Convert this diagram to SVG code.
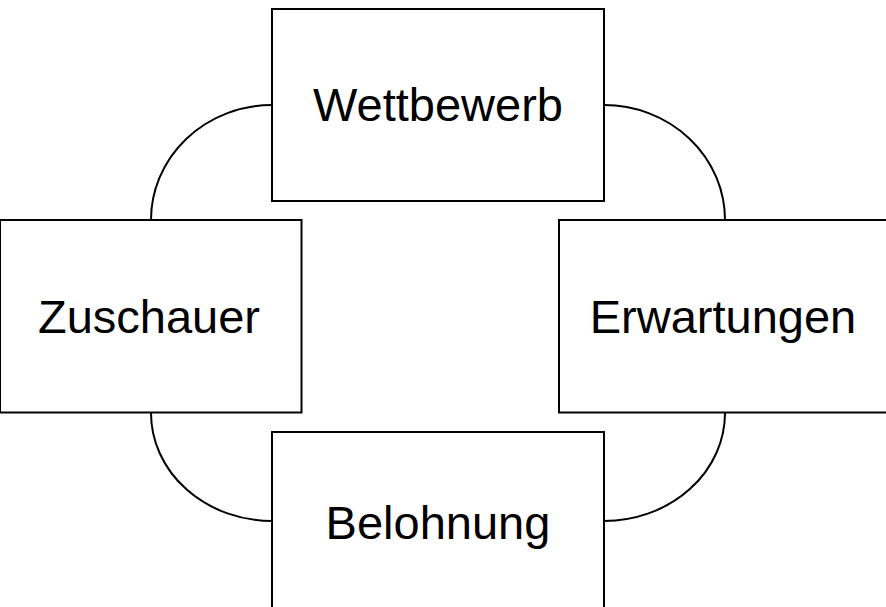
<svg xmlns="http://www.w3.org/2000/svg" width="886" height="607" viewBox="0 0 886 607">
<style>
.box{fill:#fff;stroke:#000;stroke-width:2}
.arc{fill:none;stroke:#000;stroke-width:2}
.lbl{font-family:"Liberation Sans",Arial,sans-serif;font-size:47px;fill:#000;text-anchor:middle}
</style>
<rect width="886" height="607" fill="#fff"/>
<g id="connectors">
<path class="arc" d="M272,105 A121,115 0 0 0 151,220"/>
<path class="arc" d="M604,105 A121,115 0 0 1 725,220"/>
<path class="arc" d="M151,413 A121,108 0 0 0 272,521"/>
<path class="arc" d="M725,413 A121,108 0 0 1 604,521"/>
</g>
<g id="wettbewerb">
<rect class="box" x="272" y="9" width="332" height="192"/>
<text class="lbl" x="438" y="121">Wettbewerb</text>
</g>
<g id="zuschauer">
<rect class="box" x="0" y="220" width="301.5" height="192.5"/>
<text class="lbl" x="149" y="333">Zuschauer</text>
</g>
<g id="erwartungen">
<rect class="box" x="559" y="220" width="340" height="192.5"/>
<text class="lbl" x="723" y="333">Erwartungen</text>
</g>
<g id="belohnung">
<rect class="box" x="272" y="432" width="332" height="190"/>
<text class="lbl" x="438" y="539">Belohnung</text>
</g>
</svg>
